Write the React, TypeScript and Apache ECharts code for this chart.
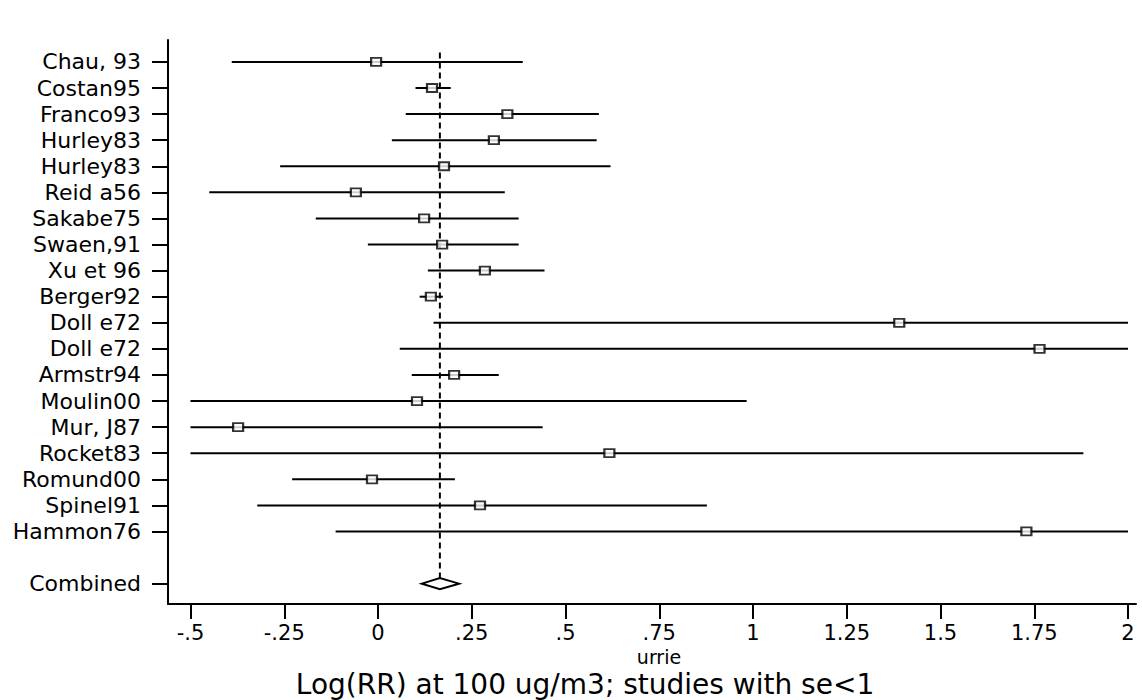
import React, { useEffect, useRef } from "react";
import * as echarts from "echarts";

// ---- data ----
const studies = [
  "Chau, 93", "Costan95", "Franco93", "Hurley83", "Hurley83", "Reid a56",
  "Sakabe75", "Swaen,91", "Xu et 96", "Berger92", "Doll e72", "Doll e72",
  "Armstr94", "Moulin00", "Mur, J87", "Rocket83", "Romund00", "Spinel91", "Hammon76",
];
const estimates = [
  -0.005, 0.144, 0.345, 0.309, 0.176, -0.059, 0.123, 0.171, 0.285, 0.141,
  1.39, 1.764, 0.203, 0.104, -0.373, 0.617, -0.016, 0.272, 1.729,
];
const lowerCI = [
  -0.39, 0.1, 0.074, 0.037, -0.261, -0.45, -0.166, -0.027, 0.133, 0.111,
  0.148, 0.058, 0.09, -0.5, -0.5, -0.5, -0.229, -0.322, -0.113,
];
const upperCI = [
  0.386, 0.194, 0.589, 0.583, 0.62, 0.338, 0.375, 0.375, 0.444, 0.173,
  2, 2, 0.322, 0.983, 0.439, 1.881, 0.205, 0.877, 2,
];
const combinedLabel = "Combined";
const combinedEstimate = 0.165;
const combinedLower = 0.117;
const combinedUpper = 0.216;

const xTicks = [-0.5, -0.25, 0, 0.25, 0.5, 0.75, 1, 1.25, 1.5, 1.75, 2];
const xTickLabels = ["-.5", "-.25", "0", ".25", ".5", ".75", "1", "1.25", "1.5", "1.75", "2"];

const xTitle = "urrie";
const chartTitle = "Log(RR) at 100 ug/m3; studies with se<1";

// ---- layout ----
const FONT = '"DejaVu Sans", "Liberation Sans", sans-serif';
const studyRows = studies.map((_, i) => i + 1);
const combinedRow = studies.length + 2;
const yRows = [...studyRows, combinedRow];
const X_MIN = -0.5;
const X_MAX = 2;

export default function App() {
  const ref = useRef<HTMLDivElement>(null);

  useEffect(() => {
    if (!ref.current) return;
    const chart = echarts.init(ref.current, undefined, { renderer: "svg" });

    const rowLabel = (v: number) => {
      const r = Math.round(v);
      if (r === combinedRow) return combinedLabel;
      return studies[r - 1] ?? "";
    };
    const xLabel = (v: number) => {
      const i = xTicks.findIndex((t) => Math.abs(t - v) < 1e-6);
      return i >= 0 ? xTickLabels[i] : "";
    };

    const option: any = {
      animation: false,
      backgroundColor: "#ffffff",
      title: {
        text: chartTitle,
        left: 580,
        textAlign: "center",
        top: 665,
        textStyle: {
          fontFamily: FONT,
          fontSize: 28,
          fontWeight: "normal",
          color: "#000",
        },
      },
      grid: { left: 168, right: 6, top: 40, bottom: 96, containLabel: false },
      xAxis: {
        type: "value",
        min: -0.56,
        max: 2.0213,
        axisLine: { show: true, onZero: false, lineStyle: { color: "#000", width: 2 } },
        axisTick: {
          show: true,
          customValues: xTicks,
          length: 15,
          lineStyle: { color: "#000", width: 2 },
        },
        axisLabel: {
          customValues: xTicks,
          formatter: (v: number) => xLabel(v),
          fontFamily: FONT,
          fontSize: 21,
          color: "#000",
          margin: 18,
        },
        splitLine: { show: false },
        name: xTitle,
        nameLocation: "middle",
        nameGap: 37,
        nameTextStyle: {
          fontFamily: FONT,
          fontSize: 19,
          color: "#000",
          padding: [0, 0, 0, 14],
        },
      },
      yAxis: {
        type: "value",
        inverse: true,
        min: 0.16,
        max: 21.78,
        axisLine: { show: true, onZero: false, lineStyle: { color: "#000", width: 2 } },
        axisTick: {
          show: true,
          customValues: yRows,
          length: 16,
          lineStyle: { color: "#000", width: 2 },
        },
        axisLabel: {
          customValues: yRows,
          formatter: (v: number) => rowLabel(v),
          fontFamily: FONT,
          fontSize: 22,
          color: "#000",
          margin: 27,
        },
        splitLine: { show: false },
      },
      series: [
        {
          type: "custom",
          name: "reference",
          data: [[combinedEstimate, combinedRow]],
          encode: { x: 0, y: 1 },
          silent: true,
          renderItem: (params: any, api: any) => {
            const top = api.coord([api.value(0), 0.64]);
            const bot = api.coord([api.value(0), api.value(1)]);
            return {
              type: "line",
              shape: { x1: top[0], y1: top[1], x2: bot[0], y2: bot[1] - 6 },
              style: { stroke: "#000", lineWidth: 2, lineDash: [6, 4] },
            };
          },
        },
        {
          type: "custom",
          name: "CI",
          data: studies.map((_, i) => [lowerCI[i], upperCI[i], studyRows[i]]),
          encode: { x: [0, 1], y: 2 },
          silent: true,
          renderItem: (params: any, api: any) => {
            const lo = Math.max(api.value(0), X_MIN);
            const hi = Math.min(api.value(1), X_MAX);
            const p1 = api.coord([lo, api.value(2)]);
            const p2 = api.coord([hi, api.value(2)]);
            return {
              type: "line",
              shape: { x1: p1[0], y1: p1[1], x2: p2[0], y2: p2[1] },
              style: { stroke: "#000", lineWidth: 2 },
            };
          },
        },
        {
          type: "scatter",
          name: "estimate",
          data: studies.map((_, i) => [estimates[i], studyRows[i]]),
          symbol: "rect",
          symbolSize: [10, 8],
          itemStyle: { color: "#fff", borderColor: "#000", borderWidth: 2 },
          silent: true,
        },
        {
          type: "custom",
          name: "combined",
          data: [[combinedEstimate, combinedLower, combinedUpper, combinedRow]],
          encode: { x: [0, 1, 2], y: 3 },
          silent: true,
          renderItem: (params: any, api: any) => {
            const c = api.coord([api.value(0), api.value(3)]);
            const l = api.coord([api.value(1), api.value(3)]);
            const r = api.coord([api.value(2), api.value(3)]);
            const h = 5.5;
            return {
              type: "polygon",
              shape: {
                points: [
                  [l[0], c[1]],
                  [c[0], c[1] - h],
                  [r[0], c[1]],
                  [c[0], c[1] + h],
                ],
              },
              style: { fill: "#fff", stroke: "#000", lineWidth: 2 },
            };
          },
        },
      ],
    };

    chart.setOption(option);
    return () => chart.dispose();
  }, []);

  return (
    <div
      ref={ref}
      style={{ position: "fixed", left: 0, top: 0, width: 1142, height: 700, background: "#fff" }}
    />
  );
}
